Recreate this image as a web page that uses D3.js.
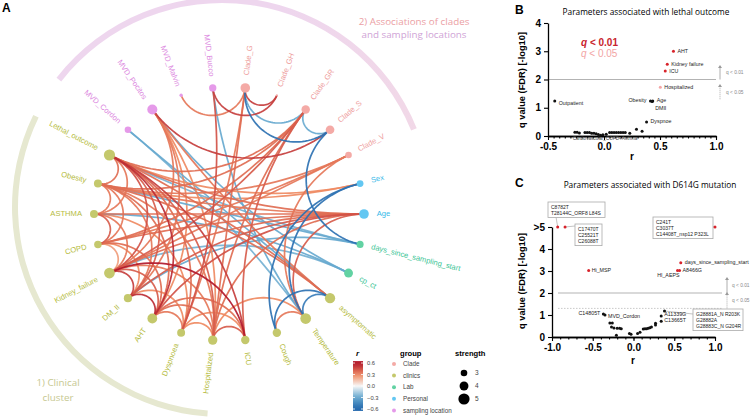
<!DOCTYPE html>
<html><head><meta charset="utf-8">
<script src="https://cdn.jsdelivr.net/npm/d3@7"></script>
<style>body{margin:0;background:#fff}svg{font-family:"Liberation Sans",Arial,sans-serif}</style>
</head><body><svg width="750" height="419"></svg>
<script>
// ---------------- DATA ----------------
const nodeNames = ["MVD_Cordon","MVD_Pocitos","MVD_Malvin","MVD_Bucco","Clade_G","Clade_GH","Clade_GR","Clade_S","Clade_V","Sex","Age","days_since_sampling_start","cp_ct","asymptomatic","Temperature","Cough","ICU","Hospitalized","Dyspnoea","AHT","DM_II","Kidney_failure","COPD","ASTHMA","Obesity","Lethal_outcome"];
const nodeGroup = ["sampling location","sampling location","sampling location","sampling location","Clade","Clade","Clade","Clade","Clade","Personal","Personal","Lab","Lab","clinics","clinics","clinics","clinics","clinics","clinics","clinics","clinics","clinics","clinics","clinics","clinics","clinics"];
const nodeStrength = [3.0,4.5,1.6,3.3,4.3,1.0,3.8,3.9,3.0,3.1,4.3,3.2,4.0,4.6,4.8,3.8,3.8,4.2,3.6,4.4,3.7,4.8,3.4,3.6,3.6,5.0];
const groupNames = ["Clade","clinics","Lab","Personal","sampling location"];

const edgeFrom = ["Lethal_outcome","Lethal_outcome","Lethal_outcome","Lethal_outcome","Lethal_outcome","Lethal_outcome","Lethal_outcome","Lethal_outcome","Lethal_outcome",
 "Obesity","Obesity","Obesity","Obesity","Obesity","ASTHMA","ASTHMA","ASTHMA","ASTHMA","COPD","COPD","COPD","COPD",
 "Kidney_failure","Kidney_failure","Kidney_failure","Kidney_failure","Kidney_failure","DM_II","DM_II","DM_II","DM_II",
 "AHT","AHT","AHT","AHT","Dyspnoea","Dyspnoea","Hospitalized","Hospitalized",
 "MVD_Malvin","MVD_Bucco","MVD_Bucco","MVD_Pocitos","Clade_G","Clade_G","Clade_G","Clade_GR","Clade_S","Clade_G","Clade_GR","Clade_GR",
 "MVD_Pocitos","MVD_Pocitos","MVD_Pocitos","MVD_Pocitos","MVD_Pocitos","MVD_Cordon","Sex","Sex","Age","Age",
 "days_since_sampling_start","days_since_sampling_start","cp_ct","cp_ct","asymptomatic","asymptomatic","asymptomatic","asymptomatic","asymptomatic",
 "Temperature","Temperature","Temperature","ICU","Clade_V","Dyspnoea","Temperature","Age","Sex","MVD_Cordon",
 "Lethal_outcome","Obesity","COPD","Clade_GR","Clade_V"];
const edgeTo = ["Obesity","Kidney_failure","DM_II","AHT","Dyspnoea","Hospitalized","ICU","Age","Clade_GR",
 "ASTHMA","AHT","DM_II","Hospitalized","Sex","COPD","Kidney_failure","Age","Dyspnoea","Kidney_failure","AHT","Clade_V","Clade_GR",
 "DM_II","AHT","ICU","Hospitalized","Age","AHT","Dyspnoea","Age","days_since_sampling_start",
 "Dyspnoea","Hospitalized","ICU","Age","Hospitalized","ICU","ICU","Age",
 "Clade_G","Clade_GH","Dyspnoea","Clade_S","Clade_GH","Clade_GR","Clade_S","Clade_S","days_since_sampling_start","Hospitalized","Kidney_failure","Obesity",
 "cp_ct","Kidney_failure","DM_II","AHT","Hospitalized","asymptomatic","Temperature","Cough","Temperature","Obesity",
 "Obesity","Lethal_outcome","ASTHMA","Kidney_failure","Temperature","Cough","Obesity","MVD_Pocitos","Lethal_outcome",
 "Cough","MVD_Bucco","Clade_V","Clade_GR","Kidney_failure","Clade_G","Hospitalized","COPD","Lethal_outcome","Temperature",
 "ASTHMA","COPD","DM_II","Hospitalized","Obesity"];
const edgeR = [0.38,0.45,0.42,0.55,0.38,0.42,0.5,0.38,0.38,
 0.35,0.38,0.35,0.35,0.3,0.42,0.35,0.38,0.3,0.25,0.38,0.35,0.38,
 0.5,0.42,0.6,0.35,0.38,0.55,0.3,0.42,-0.3,
 0.35,0.38,0.38,0.45,0.3,0.3,0.42,0.38,
 0.35,0.5,0.45,0.5,0.5,-0.3,-0.55,-0.3,-0.55,0.38,0.42,0.38,
 -0.3,0.35,0.35,0.3,0.3,-0.3,-0.55,-0.55,0.42,0.35,
 -0.3,-0.27,-0.3,-0.27,-0.5,-0.55,0.38,0.35,0.38,
 0.35,-0.3,0.35,0.42,0.35,0.35,0.3,0.38,0.3,-0.27,
 0.35,0.35,0.3,0.38,0.35];

const legendR = [0.6,0.3,0.0,-0.3,-0.6];
const legendStrength = [3,4,5];

// Panel B: parameters associated with lethal outcome
const lethalName = ["AHT","Kidney failure","ICU","Hospitalized","Obesity","Age","DMII","Dyspnoe","Outpatient","","","","","","","","","","","","","","","","","","","","","","","",""];
const lethalR = [0.62,0.565,0.547,0.503,0.415,0.435,0.43,0.38,-0.44,0.29,0.34,0.23,-0.26,-0.24,-0.22,-0.17,-0.15,-0.13,-0.11,-0.09,-0.07,-0.05,-0.03,-0.01,0.02,0.05,0.07,0.09,0.11,0.13,0.15,0.17,0.19];
const lethalQ = [3.0,2.54,2.3,1.73,1.24,1.24,1.22,0.5,1.24,0.24,0.17,0.1,0.13,0.13,0.11,0.12,0.12,0.12,0.1,0.1,0.08,0.05,0.03,0.04,0.06,0.12,0.12,0.12,0.12,0.12,0.12,0.12,0.12];
const lethalSig = [1,1,1,2,0,0,0,0,0,0,0,0,0,0,0,0,0,0,0,0,0,0,0,0,0,0,0,0,0,0,0,0,0];

// Panel C: parameters associated with D614G
const d614Name = ["","","","Hi_MSP","days_since_sampling_start","HI_AEPS","A8466G","C14805T","MVD_Cordon","A11339G","C13665T","","","","","","","","","","","","","","","","","","","","",""];
const d614R = [-0.93,-0.84,1.0,-0.55,0.58,0.54,0.565,-0.37,-0.35,0.34,0.34,0.38,-0.29,-0.26,-0.27,-0.24,-0.2,-0.17,-0.15,-0.21,-0.05,-0.03,0.05,0.08,0.12,0.14,0.16,0.18,0.2,0.22,0.27,0.27];
const d614Q = [5,5,5,3.02,3.38,3.02,3.02,1.05,1.0,0.95,0.72,1.18,0.64,0.64,0.45,0.41,0.4,0.4,0.38,0.08,0.16,0.13,0.16,0.22,0.36,0.38,0.38,0.4,0.42,0.45,0.55,0.62];
const d614Sig = [1,1,1,1,1,1,1,0,0,0,0,0,0,0,0,0,0,0,0,0,0,0,0,0,0,0,0,0,0,0,0,0];
const boxTexts = [["C8782T","T28144C_ORF8 L84S"],["C17470T","C25521T","C26088T"],["C241T","C3037T","C14408T_nsp12 P323L"],["G28881A_N R203K","G28882A","G28883C_N G204R"]];

// ---------------- DRAW ----------------
const svg = d3.select("svg");
const deg = Math.PI/180;
const defs = svg.append("defs");

// ---- Panel A ----
const cx = 229, cy = 214, RX = 135, RY = 127;
const ang = d3.scaleLinear().domain([0, nodeNames.length]).range([-48.46, 311.54]);
const rad = d3.scaleLinear().domain([1,5]).range([1,5.6]);
const nodeCol = d3.scaleOrdinal(groupNames, ["#f4aaa6","#c4c86c","#62d2a3","#63c7f2","#e59ae9"]);
const textCol = d3.scaleOrdinal(groupNames, ["#ee9d9d","#b5bb3e","#3cc596","#36b9e8","#dc88e0"]);
const rColor = d3.scaleLinear().domain([-0.6,-0.3,0,0.3,0.6]).range(["#2166ac","#67a9cf","#f7f7f7","#ef8a62","#b2182b"]).clamp(true);

svg.append("text").attr("x",2).attr("y",12).attr("font-weight","bold").attr("font-size",12).text("A");

const gA = svg.append("g");
const lg = defs.append("linearGradient").attr("id","topArc").attr("gradientUnits","userSpaceOnUse")
  .attr("x1",60).attr("x2",420).attr("y1",0).attr("y2",0);
lg.append("stop").attr("offset",0).attr("stop-color","#eed6ee");
lg.append("stop").attr("offset",1).attr("stop-color","#f7dcdc");
const arcGen = d3.arc().innerRadius(204).outerRadius(210);
gA.append("path").attr("transform","translate(222,207)").attr("d",arcGen({startAngle:-52*deg,endAngle:68*deg})).attr("fill","url(#topArc)");
gA.append("path").attr("transform","translate(222,207)").attr("d",arcGen({startAngle:184*deg,endAngle:296*deg})).attr("fill","#e6e8d0");

gA.append("text").attr("x",414).attr("y",25).attr("text-anchor","middle").attr("font-family","Open Sans").attr("font-size",9.8).attr("fill","#eba0a4").text("2) Associations of clades");
gA.append("text").attr("x",414).attr("y",38).attr("text-anchor","middle").attr("font-family","Open Sans").attr("font-size",9.8).attr("fill","#cfa3d6").text("and sampling locations");
gA.append("text").attr("x",58).attr("y",386).attr("text-anchor","middle").attr("font-family","Open Sans").attr("font-size",9.8).attr("fill","#c6c890").text("1) Clinical");
gA.append("text").attr("x",58).attr("y",401).attr("text-anchor","middle").attr("font-family","Open Sans").attr("font-size",9.8).attr("fill","#c6c890").text("cluster");

const unit = nodeNames.map((n,i)=>({u:Math.sin(ang(i)*deg), v:-Math.cos(ang(i)*deg)}));
const pos = nodeNames.map((n,i)=>({x:cx+RX*unit[i].u, y:cy+RY*unit[i].v, a:ang(i)}));
const idx = new Map(nodeNames.map((n,i)=>[n,i]));
const lineGen = d3.line();
function geodesic(p1,p2){
  const dot=p1.u*p2.u+p1.v*p2.v; const phi=Math.acos(Math.max(-1,Math.min(1,dot)));
  let pts;
  if(phi>Math.PI*0.995){ pts=[[p1.u,p1.v],[p2.u,p2.v]]; }
  else{
    const h=phi/2; let mu=p1.u+p2.u, mv=p1.v+p2.v; const ml=Math.hypot(mu,mv); mu/=ml; mv/=ml;
    const Cu=mu/Math.cos(h), Cv=mv/Math.cos(h), rho=Math.tan(h);
    const t1=Math.atan2(p1.v-Cv,p1.u-Cu), t2=Math.atan2(p2.v-Cv,p2.u-Cu);
    let dt=t2-t1; while(dt>Math.PI) dt-=2*Math.PI; while(dt<-Math.PI) dt+=2*Math.PI;
    pts=d3.range(0,41).map(j=>{const t=t1+dt*j/40; return [Cu+rho*Math.cos(t), Cv+rho*Math.sin(t)];});
  }
  return lineGen(pts.map(([u,v])=>[cx+RX*u, cy+RY*v]));
}
const edgeData = edgeFrom.map((f,i)=>({s:idx.get(f),t:idx.get(edgeTo[i]),r:edgeR[i]}))
  .sort((a,b)=>Math.abs(a.r)-Math.abs(b.r));
gA.append("g").selectAll("path").data(edgeData).join("path")
  .attr("d",d=>geodesic(unit[d.s],unit[d.t]))
  .attr("fill","none").attr("stroke",d=>rColor(d.r)).attr("stroke-width",1.7).attr("stroke-opacity",0.92);

gA.append("g").selectAll("circle").data(nodeNames).join("circle")
  .attr("cx",(d,i)=>pos[i].x).attr("cy",(d,i)=>pos[i].y).attr("r",(d,i)=>rad(nodeStrength[i]))
  .attr("fill",(d,i)=>nodeCol(nodeGroup[i]));

gA.append("g").selectAll("text").data(nodeNames).join("text")
  .each(function(d,i){
    const p=pos[i]; const a=((p.a%360)+360)%360; const off=rad(nodeStrength[i])+8;
    const lx=p.x+off*Math.sin(p.a*deg), ly=p.y-off*Math.cos(p.a*deg);
    const right = a>0 && a<180;
    d3.select(this).attr("transform",`translate(${lx},${ly}) rotate(${right? a-90 : a+90})`)
      .attr("text-anchor",right?"start":"end").attr("dominant-baseline","middle");
  })
  .attr("font-size",7.6).attr("fill",(d,i)=>textCol(nodeGroup[i])).text(d=>d);

// Legend
const lgA = svg.append("g");
lgA.append("text").attr("x",356).attr("y",356).attr("font-style","italic").attr("font-weight","bold").attr("font-size",8).text("r");
const yLeg = d3.scaleLinear().domain([-0.6,0.6]).range([409,363]);
const cg = defs.append("linearGradient").attr("id","cbar").attr("x1",0).attr("x2",0).attr("y1",0).attr("y2",1);
d3.range(0,1.0001,0.1).forEach(t=>cg.append("stop").attr("offset",t).attr("stop-color",rColor(0.65-1.3*t)));
lgA.append("rect").attr("x",353).attr("y",yLeg(0.65)).attr("width",10).attr("height",yLeg(-0.65)-yLeg(0.65)).attr("fill","url(#cbar)");
legendR.forEach(v=>{
  lgA.append("line").attr("x1",353).attr("x2",355).attr("y1",yLeg(v)).attr("y2",yLeg(v)).attr("stroke","#fff").attr("stroke-width",0.8);
  lgA.append("line").attr("x1",361).attr("x2",363).attr("y1",yLeg(v)).attr("y2",yLeg(v)).attr("stroke","#fff").attr("stroke-width",0.8);
  lgA.append("text").attr("x",367).attr("y",yLeg(v)+2).attr("font-size",5.8).attr("fill","#444").text(v===0?"0.0":(v<0?"\u2212":"")+Math.abs(v).toFixed(1));
});
lgA.append("text").attr("x",400).attr("y",356).attr("font-weight","bold").attr("font-size",7.6).text("group");
groupNames.forEach((g,i)=>{
  const y=364+i*11.6;
  lgA.append("circle").attr("cx",394).attr("cy",y).attr("r",2).attr("fill",nodeCol(g));
  lgA.append("text").attr("x",403).attr("y",y+2.2).attr("font-size",6.3).attr("fill","#444").text(g);
});
lgA.append("text").attr("x",455).attr("y",356).attr("font-weight","bold").attr("font-size",7.6).text("strength");
legendStrength.forEach((s,i)=>{
  const y=373+i*13;
  lgA.append("circle").attr("cx",464).attr("cy",y).attr("r",rad(s)).attr("fill","#000");
  lgA.append("text").attr("x",475).attr("y",y+2.3).attr("font-size",6.5).attr("fill","#444").text(s);
});

// ---- helpers ----
function styleAxis(g){
  g.select(".domain").attr("stroke","#000").attr("stroke-width",1.3);
  g.selectAll(".tick line").attr("stroke","#000").attr("stroke-width",1.1);
  g.selectAll(".tick text").attr("font-family","Liberation Sans, Arial").attr("font-weight","bold").attr("font-size",10).attr("fill","#000");
}
function arrow(g,x,y1,y2,dotted){
  g.append("line").attr("x1",x).attr("x2",x).attr("y1",y1).attr("y2",y2+3).attr("stroke","#999").attr("stroke-width",0.8).attr("stroke-dasharray",dotted?"1,1":null);
  g.append("path").attr("d",`M${x-2},${y2+3}L${x},${y2}L${x+2},${y2+3}Z`).attr("fill","#999");
}
const fmt = d=>d.toFixed(1);

// ---- Panel B ----
const gB = svg.append("g");
const xB = d3.scaleLinear().domain([-0.5,1]).range([548,716]);
const yB = d3.scaleLinear().domain([0,4]).range([136,23]);
gB.append("text").attr("x",515).attr("y",14).attr("font-weight","bold").attr("font-size",12).text("B");
gB.append("text").attr("x",646).attr("y",15).attr("text-anchor","middle").attr("font-family","Open Sans").attr("font-size",8.3).text("Parameters associated with lethal outcome");
gB.append("line").attr("x1",xB(-0.5)).attr("x2",xB(1)).attr("y1",yB(2)).attr("y2",yB(2)).attr("stroke","#aaa").attr("stroke-width",0.9);
gB.append("g").attr("transform","translate(0,136)").call(d3.axisBottom(xB).tickValues(d3.range(-0.5,1.0001,0.05)).tickSize(2.5).tickFormat("").tickSizeOuter(0)).call(styleAxis);
gB.append("g").attr("transform","translate(0,136)").call(d3.axisBottom(xB).tickValues([-0.5,0,0.5,1]).tickSize(4).tickFormat(fmt).tickSizeOuter(0)).call(styleAxis);
gB.append("g").attr("transform","translate(548,0)").call(d3.axisLeft(yB).tickValues([0,1,2,3,4]).tickSize(4).tickFormat(d3.format("d")).tickSizeOuter(0)).call(styleAxis);
gB.append("text").attr("transform","translate(525,80) rotate(-90)").attr("text-anchor","middle").attr("font-weight","bold").attr("font-size",9.3).text("q value (FDR) [-log10]");
gB.append("text").attr("x",632).attr("y",160).attr("text-anchor","middle").attr("font-weight","bold").attr("font-size",10).text("r");
const qt1 = gB.append("text").attr("x",581).attr("y",46).attr("font-size",10).attr("font-weight","bold").attr("fill","#c8232c");
qt1.append("tspan").attr("font-style","italic").text("q"); qt1.append("tspan").text(" < 0.01");
const qt2 = gB.append("text").attr("x",581).attr("y",57).attr("font-size",10).attr("fill","#f2a4a4");
qt2.append("tspan").attr("font-style","italic").text("q"); qt2.append("tspan").text(" < 0.05");
arrow(gB,720,yB(2),65,false); arrow(gB,720,yB(1.3),84,true);
gB.append("text").attr("x",726).attr("y",74).attr("font-size",4.8).attr("fill","#888").text("q < 0.01");
gB.append("text").attr("x",726).attr("y",94).attr("font-size",4.8).attr("fill","#888").text("q < 0.05");
const sigCol = ["#111","#d8232b","#f4a6a6"];
gB.append("g").selectAll("circle").data(lethalR).join("circle")
  .attr("cx",d=>xB(d)).attr("cy",(d,i)=>yB(lethalQ[i])).attr("r",1.5).attr("fill",(d,i)=>sigCol[lethalSig[i]]);
const bLab = {"AHT":[4,2,"start"],"Kidney failure":[4,1.5,"start"],"ICU":[4,2,"start"],"Hospitalized":[4,2,"start"],"Obesity":[-4,1.5,"end"],"Age":[4,1.5,"start"],"DMII":[3,8,"start"],"Dyspnoe":[4,1.5,"start"],"Outpatient":[4,4,"start"]};
lethalName.forEach((n,i)=>{ if(!n) return; const o=bLab[n];
  gB.append("text").attr("x",xB(lethalR[i])+o[0]).attr("y",yB(lethalQ[i])+o[1]).attr("text-anchor",o[2]).attr("font-size",5.3).attr("fill","#222").text(n);});
gB.append("text").attr("x",xB(-0.28)).attr("y",139.5).attr("font-size",4.6).attr("fill","#444").text("Cardiovascular_COPD+Asthma");

// ---- Panel C ----
const gC = svg.append("g");
const xC = d3.scaleLinear().domain([-1,1]).range([552,715]);
const yC = d3.scaleLinear().domain([0,5]).range([337,227]);
gC.append("text").attr("x",515).attr("y",187).attr("font-weight","bold").attr("font-size",12).text("C");
gC.append("text").attr("x",650).attr("y",188).attr("text-anchor","middle").attr("font-family","Open Sans").attr("font-size",8.3).text("Parameters associated with D614G mutation");
gC.append("line").attr("x1",558).attr("x2",722).attr("y1",yC(2)).attr("y2",yC(2)).attr("stroke","#aaa").attr("stroke-width",0.9);
gC.append("line").attr("x1",558).attr("x2",722).attr("y1",yC(1.3)).attr("y2",yC(1.3)).attr("stroke","#bbb").attr("stroke-width",0.8).attr("stroke-dasharray","1.5,1.5");
gC.append("g").attr("transform","translate(0,337)").call(d3.axisBottom(xC).tickValues(d3.range(-1,1.0001,0.1)).tickSize(2.5).tickFormat("").tickSizeOuter(0)).call(styleAxis);
gC.append("g").attr("transform","translate(0,337)").call(d3.axisBottom(xC).tickValues([-1,-0.5,0,0.5,1]).tickSize(4).tickFormat(fmt).tickSizeOuter(0)).call(styleAxis);
gC.append("g").attr("transform","translate(552,0)").call(d3.axisLeft(yC).tickValues([0,1,2,3,4,5]).tickSize(4).tickFormat(d=>d===5?">5":d).tickSizeOuter(0)).call(styleAxis);
gC.append("text").attr("transform","translate(525,281) rotate(-90)").attr("text-anchor","middle").attr("font-weight","bold").attr("font-size",9.3).text("q value (FDR) [-log10]");
gC.append("text").attr("x",633).attr("y",364).attr("text-anchor","middle").attr("font-weight","bold").attr("font-size",10).text("r");
arrow(gC,727,yC(2),277,false); arrow(gC,727,yC(1.3),292,true);
gC.append("text").attr("x",732).attr("y",287).attr("font-size",4.8).attr("fill","#888").text("q < 0.01");
gC.append("text").attr("x",732).attr("y",302).attr("font-size",4.8).attr("fill","#888").text("q < 0.05");
// connectors & boxes
const boxLayout = [[548,202,57,[[556,217,xC(d614R[0]),yC(d614Q[0])]]],[575,224,27,[[575,226,xC(d614R[1]),yC(d614Q[1])]]],[653,217,60,[[713,227,xC(d614R[2]),yC(d614Q[2])]]],[693,309,50,[[693,314,xC(d614R[11]),yC(d614Q[11])]]]];
boxLayout.forEach((b,k)=>{
  b[3].forEach(c=>gC.append("line").attr("x1",c[0]).attr("y1",c[1]).attr("x2",c[2]).attr("y2",c[3]).attr("stroke","#aaa").attr("stroke-width",0.7));
  const lines=boxTexts[k]; const h=lines.length*6.2+3;
  gC.append("rect").attr("x",b[0]).attr("y",b[1]).attr("width",b[2]).attr("height",h).attr("fill","#fff").attr("stroke","#aaa").attr("stroke-width",0.8);
  lines.forEach((t,j)=>gC.append("text").attr("x",b[0]+3).attr("y",b[1]+6.5+j*6.2).attr("font-size",5).attr("fill","#222").text(t));
});
gC.append("g").selectAll("circle").data(d614R).join("circle")
  .attr("cx",d=>xC(d)).attr("cy",(d,i)=>yC(d614Q[i])).attr("r",1.5).attr("fill",(d,i)=>sigCol[d614Sig[i]]);
const cLab = {"Hi_MSP":[3,1.5,"start"],"days_since_sampling_start":[4,1.5,"start"],"HI_AEPS":[2,6,"end"],"A8466G":[3,1.5,"start"],"C14805T":[-3,1,"end"],"MVD_Cordon":[3,2.5,"start"],"A11339G":[3,0,"start"],"C13665T":[3,1,"start"]};
d614Name.forEach((n,i)=>{ if(!n) return; const o=cLab[n];
  gC.append("text").attr("x",xC(d614R[i])+o[0]).attr("y",yC(d614Q[i])+o[1]).attr("text-anchor",o[2]).attr("font-size",5.3).attr("fill","#222").text(n);});
</script></body></html>
